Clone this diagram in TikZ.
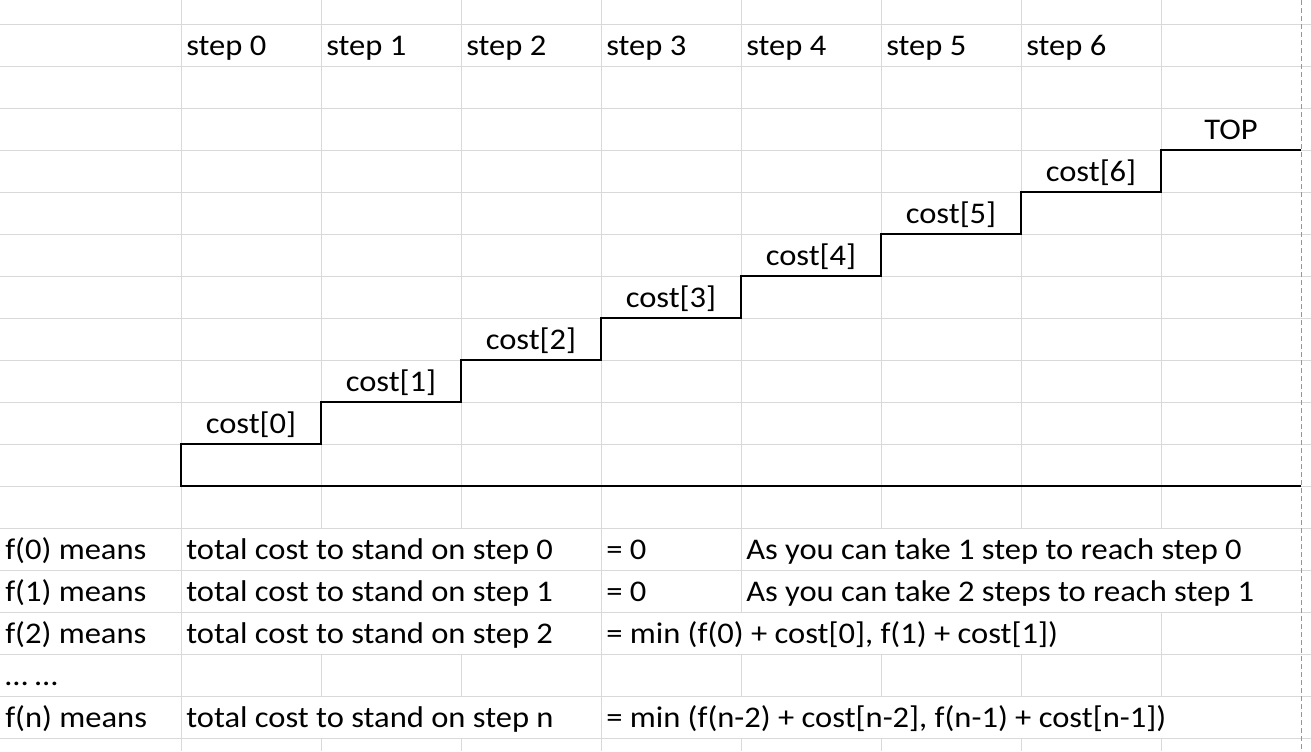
\documentclass[tikz,border=0pt]{standalone}
\usepackage{fontspec}
\setmainfont{Carlito}[FakeStretch=1.085]
\definecolor{gridgray}{RGB}{217,217,217}
\definecolor{breakgray}{RGB}{150,150,150}
\begin{document}
\begin{tikzpicture}[x=0.75pt,y=-0.75pt,
  gridline/.style={draw=gridgray,line width=0.75pt},
  pagebreak/.style={draw=breakgray,line width=0.75pt,dash pattern=on 3.75pt off 2.25pt},
  stair/.style={draw=black,line width=1.1pt},
  celltext/.style={anchor=base west,inner sep=0pt,font=\fontsize{22.5}{27}\selectfont},
  ctext/.style={anchor=base,inner sep=0pt,font=\fontsize{22.5}{27}\selectfont}]
\useasboundingbox (0,0) rectangle (1311,751);
\fill[white] (0,0) rectangle (1311,751);
% horizontal gridlines
\foreach \y in {24,66,...,738} \draw[gridline] (0,\y) -- (1311,\y);
% vertical gridlines
\foreach \x in {181,601} \draw[gridline] (\x,0) -- (\x,751);
\foreach \x in {321,461,881,1021} {
  \draw[gridline] (\x,0) -- (\x,528);
  \draw[gridline] (\x,654) -- (\x,696);
  \draw[gridline] (\x,738) -- (\x,751);
}
\draw[gridline] (741,0) -- (741,612);
\draw[gridline] (741,654) -- (741,696);
\draw[gridline] (741,738) -- (741,751);
\draw[gridline] (1161,0) -- (1161,528);
\draw[gridline] (1161,612) -- (1161,696);
\draw[gridline] (1161,738) -- (1161,751);
% page break
\draw[pagebreak] (1301,0) -- (1301,751);
% headers
\foreach \i in {0,...,6} \node[celltext] (s\i) at ({186+140*\i},55) {step \i};
% staircase
\coordinate (b0) at (181,486);
\coordinate (b1) at (1301,486);
\draw[stair] (b1) -- (b0) -- (181,444) -- (321,444) -- (321,402) -- (461,402) -- (461,360)
  -- (601,360) -- (601,318) -- (741,318) -- (741,276) -- (881,276) -- (881,234)
  -- (1021,234) -- (1021,192) -- (1161,192) -- (1161,150) -- (1301,150);
\foreach \i in {0,...,6} \node[ctext] (c\i) at ({251+140*\i},{433-42*\i}) {cost[\i]};
\node[ctext] (top) at (1231,139) {TOP};
% lower table
\node[celltext] (f0) at (5,559) {f(0) means};
\node[celltext] (f1) at (5,601) {f(1) means};
\node[celltext] (f2) at (5,643) {f(2) means};
\node[celltext] (dots) at (5,685) {… …};
\node[celltext] (fn) at (5,727) {f(n) means};
\node[celltext] (t0) at (186,559) {total cost to stand on step 0};
\node[celltext] (t1) at (186,601) {total cost to stand on step 1};
\node[celltext] (t2) at (186,643) {total cost to stand on step 2};
\node[celltext] (tn) at (186,727) {total cost to stand on step n};
\node[celltext] (e0) at (606,559) {= 0};
\node[celltext] (e1) at (606,601) {= 0};
\node[celltext] (e2) at (606,643) {= min (f(0) + cost[0], f(1) + cost[1])};
\node[celltext] (en) at (606,727) {= min (f(n-2) + cost[n-2], f(n-1) + cost[n-1])};
\node[celltext] (a0) at (746,559) {As you can take 1 step to reach step 0};
\node[celltext] (a1) at (746,601) {As you can take 2 steps to reach step 1};
\end{tikzpicture}
\end{document}
